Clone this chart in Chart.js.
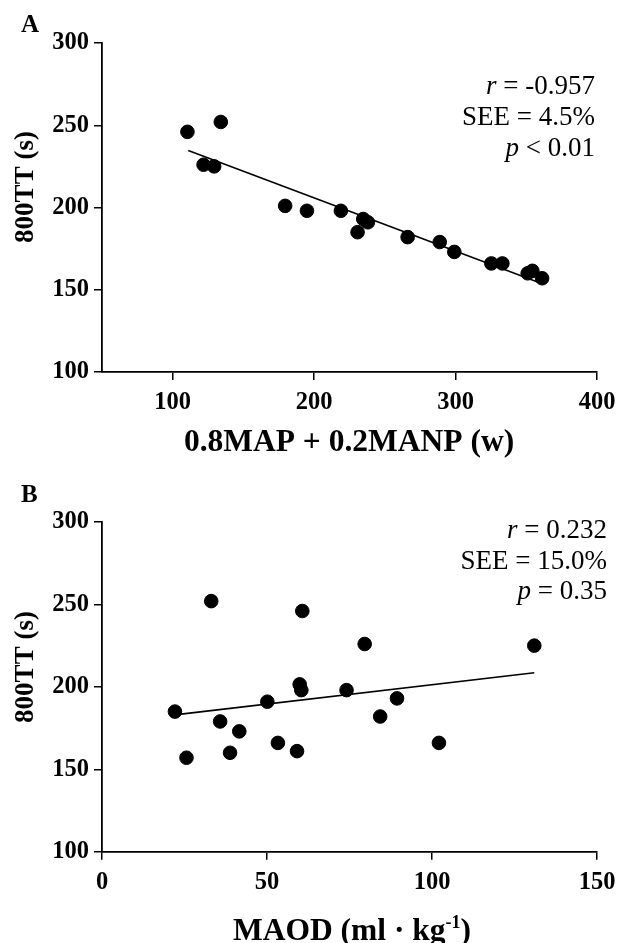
<!DOCTYPE html>
<html>
<head>
<meta charset="utf-8">
<script src="https://cdn.jsdelivr.net/npm/chart.js@4.4.0/dist/chart.umd.min.js"></script>
<style>
body { margin: 0; background: #fff; }
canvas { position: absolute; left: 0; }
#chartA { top: 0; }
#chartB { top: 470px; }
</style>
</head>
<body>
<canvas id="chartA" width="617" height="470"></canvas>
<canvas id="chartB" width="617" height="473"></canvas>
<script>
// panel A: 0.8MAP + 0.2MANP (w) vs 800 m time
const powerA = [110.4, 134, 121.8, 129.3, 179.5, 194.9, 218.9, 230.7, 234.7, 238, 266.1, 288.8, 299.1, 325.3, 333.1, 351, 354.3, 361.2];
const timeA  = [246, 252, 226, 225, 201, 198, 198, 185, 193, 191, 182, 179, 173, 166, 166, 160, 161.5, 157];
const fitPowerA = [111, 358];
const fitTimeA  = [234.7, 154.7];
const xTicksA = [100, 200, 300, 400];
const statsA = [['r', ' = -0.957'], ['', 'SEE = 4.5%'], ['p', ' < 0.01']];

// panel B: MAOD vs 800 m time
const maodB = [22.1, 25.6, 33.1, 35.8, 38.8, 41.6, 50.1, 53.3, 59.1, 59.9, 60.4, 60.7, 74.1, 79.6, 84.3, 89.4, 102.1, 131];
const timeB = [185, 157, 252, 179, 160, 173, 191, 166, 161, 201.5, 198, 246, 198, 226, 182, 193, 166, 225];
const fitMaodB = [23.3, 131];
const fitTimeB = [183.3, 208.6];
const xTicksB = [0, 50, 100, 150];
const statsB = [['r', ' = 0.232'], ['', 'SEE = 15.0%'], ['p', ' = 0.35']];

const yTicks = [100, 150, 200, 250, 300];
const SERIF = "'Liberation Serif', 'Times New Roman', serif";

function pts(xs, ys) {
    return xs.map((x, i) => ({ x: x, y: ys[i] }));
}

// letters, axis titles and the r / SEE / p block
const panelText = {
    id: 'panelText',
    afterDraw(chart, args, o) {
        const ctx = chart.ctx;
        ctx.save();
        ctx.fillStyle = '#000';

        ctx.font = 'bold 25px ' + SERIF;
        ctx.textAlign = 'left';
        ctx.textBaseline = 'alphabetic';
        ctx.fillText(o.letter, 21, 32);

        ctx.save();
        ctx.translate(o.yTitleX, o.yTitleY);
        ctx.rotate(-Math.PI / 2);
        ctx.textAlign = 'center';
        ctx.textBaseline = 'middle';
        ctx.font = 'bold 27px ' + SERIF;
        ctx.fillText('800TT (s)', 0, 0);
        ctx.restore();

        // x title, drawn in pieces so the superscript works
        ctx.textAlign = 'left';
        ctx.textBaseline = 'alphabetic';
        let total = 0;
        o.xTitle.forEach(seg => {
            ctx.font = 'bold ' + seg[1] + 'px ' + SERIF;
            total += ctx.measureText(seg[0]).width;
        });
        let x = o.xTitleX - total / 2;
        o.xTitle.forEach(seg => {
            ctx.font = 'bold ' + seg[1] + 'px ' + SERIF;
            ctx.fillText(seg[0], x, o.xTitleY - seg[2]);
            x += ctx.measureText(seg[0]).width;
        });

        ctx.textAlign = 'right';
        o.stats.forEach((s, i) => {
            const y = o.statsY + i * 30.8;
            ctx.font = '27px ' + SERIF;
            ctx.fillText(s[1], o.statsX, y);
            if (s[0]) {
                const w = ctx.measureText(s[1]).width;
                ctx.font = 'italic 27px ' + SERIF;
                ctx.fillText(s[0], o.statsX - w, y);
            }
        });
        ctx.restore();
    }
};

function axisStyle() {
    return {
        grid: { display: true, drawOnChartArea: false, drawTicks: true, tickLength: 8, color: '#000', lineWidth: 1.5 },
        border: { display: true, color: '#000', width: 1.8 },
        ticks: { color: '#000', font: { family: SERIF, size: 24.5, weight: 'bold' }, maxRotation: 0 }
    };
}

function makeChart(id, cfg) {
    const xs = axisStyle();
    const ys = axisStyle();
    xs.ticks.padding = 8;
    ys.ticks.padding = 5;
    return new Chart(document.getElementById(id), {
        type: 'scatter',
        data: {
            datasets: [{
                data: pts(cfg.xs, cfg.ys),
                backgroundColor: '#000',
                borderColor: '#000',
                pointRadius: 6.8,
                pointHoverRadius: 6.8
            }, {
                data: pts(cfg.fitX, cfg.fitY),
                showLine: true,
                borderColor: '#000',
                borderWidth: 1.6,
                pointRadius: 0,
                fill: false
            }]
        },
        options: {
            responsive: false,
            animation: false,
            devicePixelRatio: 1,
            layout: { padding: { top: cfg.top, right: 20, left: 0, bottom: 0 } },
            plugins: {
                legend: { display: false },
                tooltip: { enabled: false },
                panelText: cfg.text
            },
            scales: {
                x: Object.assign(xs, {
                    type: 'linear',
                    min: cfg.xMin,
                    max: cfg.xMax,
                    afterBuildTicks: s => { s.ticks = cfg.xTicks.map(v => ({ value: v })); },
                    afterFit: s => { s.height = cfg.xAxisH; s.paddingLeft = 0; s.paddingRight = 0; }
                }),
                y: Object.assign(ys, {
                    type: 'linear',
                    min: 100,
                    max: 300,
                    afterBuildTicks: s => { s.ticks = yTicks.map(v => ({ value: v })); },
                    afterFit: s => { s.width = 102; s.paddingTop = 0; s.paddingBottom = 0; }
                })
            }
        },
        plugins: [panelText]
    });
}

makeChart('chartA', {
    xs: powerA, ys: timeA, fitX: fitPowerA, fitY: fitTimeA,
    xMin: 50, xMax: 400, xTicks: xTicksA, top: 43, xAxisH: 98,
    text: {
        letter: 'A', yTitleX: 26, yTitleY: 187,
        xTitle: [['0.8MAP + 0.2MANP (w)', 31.5, 0]], xTitleX: 349, xTitleY: 451,
        stats: statsA, statsX: 595, statsY: 94
    }
});

makeChart('chartB', {
    xs: maodB, ys: timeB, fitX: fitMaodB, fitY: fitTimeB,
    xMin: 0, xMax: 150, xTicks: xTicksB, top: 52, xAxisH: 91.3,
    text: {
        letter: 'B', yTitleX: 26, yTitleY: 197,
        xTitle: [['MAOD (ml \u00b7 kg', 31.5, 0], ['-1', 18, 12], [')', 31.5, 0]], xTitleX: 352, xTitleY: 470,
        stats: statsB, statsX: 607, statsY: 67.7
    }
});
</script>
</body>
</html>
